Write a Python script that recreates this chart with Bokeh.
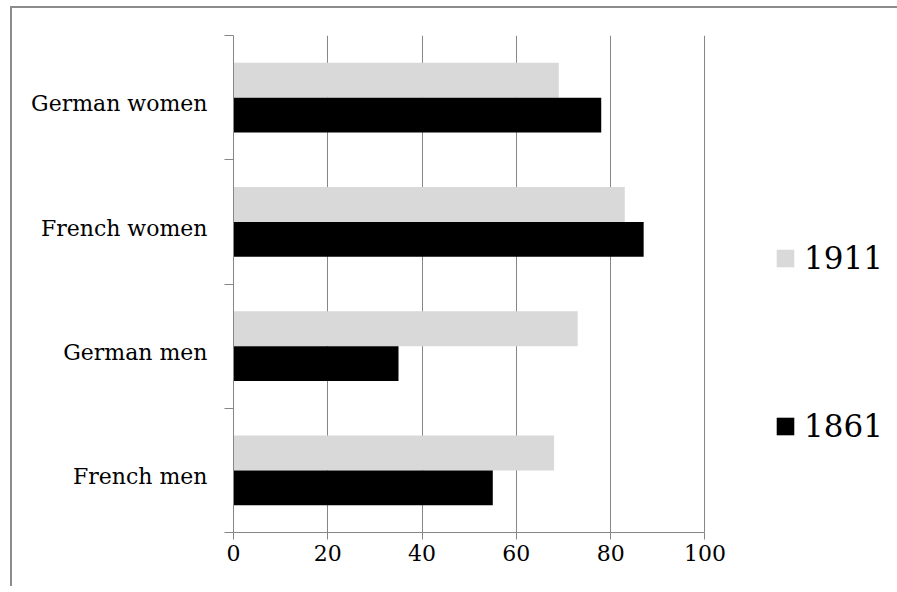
from bokeh.plotting import figure
from bokeh.models import (ColumnDataSource, Range1d, FixedTicker, Legend, LegendItem)
from bokeh.transform import dodge
from bokeh.embed import file_html
from bokeh.resources import INLINE

categories = ["French men", "German men", "French women", "German women"]
values_1911 = [68, 73, 83, 69]
values_1861 = [55, 35, 87, 78]
x_ticks = [0, 20, 40, 60, 80, 100]

FONT = "DejaVu Serif"

ypos = [i + 0.5 for i in range(len(categories))]
label_pos = [i + 0.45 for i in range(len(categories))]
src = ColumnDataSource(dict(y=ypos, v1911=values_1911, v1861=values_1861))

# layout in pixels: canvas x 12..897, frame 233..885 ; value 100 sits at x=703
FRAME_W = 885 - 233
X_END = 100 * FRAME_W / (703 - 233)

p = figure(width=887, height=580, output_backend="svg", toolbar_location=None,
           x_range=Range1d(0, X_END), y_range=Range1d(0, len(categories)),
           min_border_left=221, min_border_right=12, min_border_top=27,
           min_border_bottom=56)
p.margin = (6, 0, 0, 10)
p.styles = {"border-left": "2px solid #8c8c8c", "border-top": "2px solid #8c8c8c",
            "border-right": "0px none white", "border-bottom": "0px none white",
            "box-sizing": "border-box"}
p.outline_line_color = None
p.background_fill_color = "white"
p.border_fill_color = "white"

r1 = p.hbar(y=dodge("y", 0.14, range=p.y_range), right="v1911", left=0, height=0.28,
            source=src, fill_color="#d9d9d9", line_color=None)
r2 = p.hbar(y=dodge("y", -0.14, range=p.y_range), right="v1861", left=0, height=0.28,
            source=src, fill_color="#000000", line_color=None)

# x axis
p.xaxis.ticker = FixedTicker(ticks=x_ticks)
p.xaxis.bounds = (x_ticks[0], x_ticks[-1])
p.xaxis.axis_line_color = "#868686"
p.xaxis.major_tick_line_color = "#868686"
p.xaxis.major_tick_out = 7
p.xaxis.major_tick_in = 0
p.xaxis.minor_tick_line_color = None
p.xaxis.major_label_text_font = FONT
p.xaxis.major_label_text_font_size = "22px"
p.xaxis.major_label_text_color = "black"
p.xaxis.major_label_standoff = 5

# y axis
p.yaxis.ticker = FixedTicker(ticks=label_pos, minor_ticks=list(range(len(categories) + 1)))
p.yaxis.major_label_overrides = {y: c for y, c in zip(label_pos, categories)}
p.yaxis.axis_line_color = "#868686"
p.yaxis.major_tick_line_color = None
p.yaxis.major_tick_out = 0
p.yaxis.major_tick_in = 0
p.yaxis.minor_tick_line_color = "#868686"
p.yaxis.minor_tick_out = 9
p.yaxis.minor_tick_in = 0
p.yaxis.major_label_text_font = FONT
p.yaxis.major_label_text_font_size = "22px"
p.yaxis.major_label_text_color = "black"
p.yaxis.major_label_standoff = 17

p.xgrid.ticker = FixedTicker(ticks=x_ticks)
p.xgrid.grid_line_color = "#868686"
p.ygrid.grid_line_color = None

legend = Legend(items=[LegendItem(label="1911", renderers=[r1]),
                       LegendItem(label="1861", renderers=[r2])],
                location=(541, 88), orientation="vertical")
legend.label_text_font = FONT
legend.label_text_font_size = "31px"
legend.label_text_color = "black"
legend.glyph_width = 22
legend.glyph_height = 22
legend.spacing = 132
legend.label_standoff = 8
legend.padding = 0
legend.margin = 0
legend.border_line_color = None
legend.background_fill_alpha = 0
p.add_layout(legend, "center")

open("out.html", "w").write(file_html(p, INLINE))
